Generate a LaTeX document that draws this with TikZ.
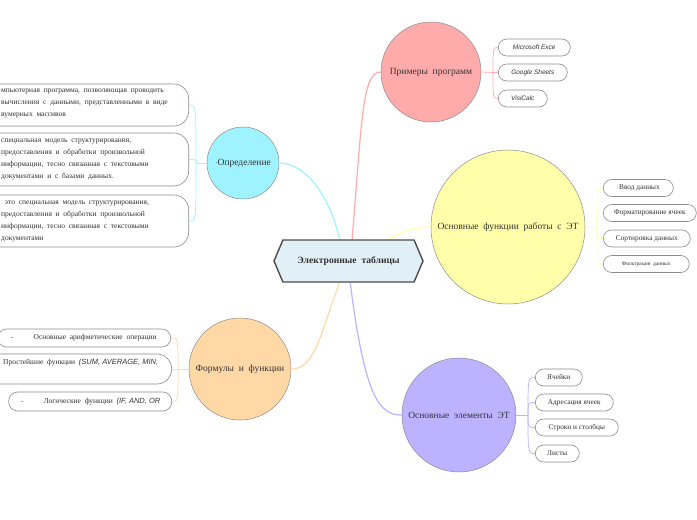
\documentclass[tikz,border=0pt]{standalone}
\usepackage{fontspec}
\setmainfont{Liberation Serif}
\newfontfamily\handfont{Liberation Sans}
\usetikzlibrary{shapes.geometric,shapes.misc,shapes.symbols}
\definecolor{cyanf}{HTML}{9EF3FF}
\definecolor{pinkf}{HTML}{FFABAB}
\definecolor{yelf}{HTML}{FFFFAA}
\definecolor{purf}{HTML}{BCB2FF}
\definecolor{peachf}{HTML}{FFD8A6}
\definecolor{centf}{HTML}{E1EFF6}
\definecolor{bord}{HTML}{8C8C8C}
\definecolor{txt}{HTML}{333333}
\tikzset{
  topic/.style={circle, draw=bord, line width=0.5pt, text=txt, font=\fontsize{9.5}{11}\selectfont, inner sep=0pt},
  leaf/.style={rectangle, rounded corners=8.5pt, draw=bord, line width=0.6pt, fill=white, text=txt, font=\fontsize{7.3}{8}\selectfont, minimum height=17pt, inner xsep=4pt, anchor=west},
  hand/.style={font=\handfont\itshape\fontsize{6.5}{8}\selectfont},
  bigbox/.style={rounded corners=15pt, draw=bord, line width=0.6pt, fill=white, inner sep=0pt},
  boxtext/.style={text=txt, font=\fontsize{7.5}{12}\selectfont, align=left, anchor=west, inner sep=0pt},
  mainlink/.style={line width=1.2pt},
  sublink/.style={line width=0.7pt}
}
\begin{document}
\begin{tikzpicture}[x=1pt,y=-1pt]
\useasboundingbox (0,0) rectangle (697,520);
\fill[white] (0,0) rectangle (697,520);

% topics
\node[topic, fill=cyanf, minimum size=72pt] (def) at (243,163) {$\cdot$Определение};
\node[topic, fill=pinkf, minimum size=100pt] (ex) at (431,72) {Примеры\ \ программ};
\node[topic, fill=yelf, minimum size=154pt] (fun) at (508,227) {Основные\ \ функции\ \ работы\ \ с\ \ ЭТ};
\node[topic, fill=purf, minimum size=114pt] (el) at (459,415) {Основные\ \ элементы\ \ ЭТ};
\node[topic, fill=peachf, minimum size=102pt] (form) at (240,369) {Формулы\ \ и\ \ функции};

% main links
\coordinate (c1) at (340,241);
\coordinate (c2) at (352,241);
\coordinate (c3) at (385,241);
\coordinate (c4) at (340,281);
\coordinate (c5) at (350,281);
\draw[mainlink, draw=cyanf] (c1) .. controls (330,195) and (305,163) .. (def.east);
\draw[mainlink, draw=pinkf] (c2) .. controls (362,120) and (362,72) .. (ex.west);
\draw[mainlink, draw=yelf] (c3) .. controls (400,232) and (415,227) .. (fun.west);
\draw[mainlink, draw=purf] (c5) .. controls (365,400) and (380,415) .. (el.west);
\draw[mainlink, draw=peachf] (c4) .. controls (320,335) and (315,369) .. (form.east);

% central node
\node[signal, signal to=east and west, signal pointer angle=134, draw=black!70, line width=1.4pt, fill=centf, minimum width=149pt, minimum height=42pt, inner sep=0pt, text=txt, font=\bfseries\fontsize{9.6}{11}\selectfont] (center) at (348.5,261) {Электронные\ \ таблицы};

% examples leaves
\node[leaf, hand, minimum width=72pt] (p1) at (498,47.5) {Microsoft Exce};
\node[leaf, hand, minimum width=69pt] (p2) at (498,72.5) {Google Sheets};
\node[leaf, hand, minimum width=49pt] (p3) at (498,98.5) {VisiCalc};
\coordinate (pt) at (493,72.5);
\draw[sublink, draw=pinkf] (ex.east) -- (pt);
\foreach \n/\y in {p1/47.5,p2/72.5,p3/98.5} \draw[sublink, draw=pinkf] (pt) .. controls (493,\y) .. (\n.west);

% functions leaves
\node[leaf, minimum width=70pt] (f1) at (603,188) {$\cdot$Ввод данных};
\node[leaf, minimum width=93pt] (f2) at (603,213) {Форматирование ячеек};
\node[leaf, minimum width=87pt] (f3) at (603,238.5) {Сортировка данных};
\node[leaf, minimum width=86pt, font=\fontsize{5.5}{7}\selectfont] (f4) at (603,264) {Фильтрация\ \ данных};
\coordinate (ft) at (597,227);
\draw[sublink, draw=yelf] (fun.east) -- (ft);
\foreach \n/\y in {f1/188,f2/213,f3/238.5,f4/264} \draw[sublink, draw=yelf] (ft) .. controls (597,\y) .. (\n.west);

% elements leaves
\node[leaf, minimum width=47pt] (e1) at (535,377.5) {Ячейки};
\node[leaf, minimum width=78pt] (e2) at (535,402.5) {Адресация ячеек};
\node[leaf, minimum width=83pt] (e3) at (535,427.5) {Строки и столбцы};
\node[leaf, minimum width=44pt] (e4) at (535,453.5) {Листы};
\coordinate (et) at (528,415);
\draw[sublink, draw=purf] (el.east) -- (et);
\foreach \n/\y in {e1/377.5,e2/402.5,e3/427.5,e4/453.5} \draw[sublink, draw=purf] (et) .. controls (528,\y) .. (\n.west);

% definition boxes
\node[bigbox, minimum width=240pt, minimum height=42pt, anchor=east] (d1) at (189,105) {};
\node[bigbox, minimum width=240pt, minimum height=53pt, anchor=east] (d2) at (189,159.5) {};
\node[bigbox, minimum width=240pt, minimum height=52pt, anchor=east] (d3) at (189,221) {};
\node[boxtext] (d1t) at (1,104) {мпьютерная\ \ программа,\ \ позволяющая\ \ проводить\\вычисления\ \ с\ \ данными,\ \ представленными\ \ в\ \ виде\\вумерных\ \ массивов};
\node[boxtext] (d2t) at (1,160) {специальная\ \ модель\ \ структурирования,\\предоставления\ \ и\ \ обработки\ \ произвольной\\информации,\ \ тесно\ \ связанная\ \ с\ \ текстовыми\\документами\ \ и\ \ с\ \ базами\ \ данных.};
\node[boxtext] (d3t) at (1,222) {\ \ это\ \ специальная\ \ модель\ \ структурирования,\\предоставления\ \ и\ \ обработки\ \ произвольной\\информации,\ \ тесно\ \ связанная\ \ с\ \ текстовыми\\документами};
\coordinate (dt) at (196,163);
\draw[sublink, draw=cyanf] (def.west) -- (dt);
\foreach \n/\y in {d1/105,d2/159.5,d3/221} \draw[sublink, draw=cyanf] (dt) .. controls (196,\y) .. (\n.east);

% formula boxes
\node[bigbox, rounded corners=9pt, minimum width=173pt, minimum height=18pt, anchor=east] (b1) at (171,338) {};
\node[bigbox, minimum width=220pt, minimum height=30pt, anchor=east] (b2) at (172,369) {};
\node[bigbox, rounded corners=9pt, minimum width=163pt, minimum height=19pt, anchor=east] (b3) at (172,401.5) {};
\node[boxtext] (b1t) at (11,338) {-\hspace{20pt}Основные\ \ арифметические\ \ операции};
\node[boxtext] (b2t) at (3,363) {Простейшие\ \ функции\ \ {\handfont\itshape (SUM, AVERAGE, MIN,}};
\node[boxtext] (b3t) at (21,401.5) {-\hspace{20pt}Логические\ \ функции\ \ {\handfont\itshape (IF, AND, OR}};
\coordinate (bt) at (178,369);
\draw[sublink, draw=peachf] (form.west) -- (bt);
\foreach \n/\y in {b1/338,b2/369,b3/401.5} \draw[sublink, draw=peachf] (bt) .. controls (178,\y) .. (\n.east);
\end{tikzpicture}
\end{document}
